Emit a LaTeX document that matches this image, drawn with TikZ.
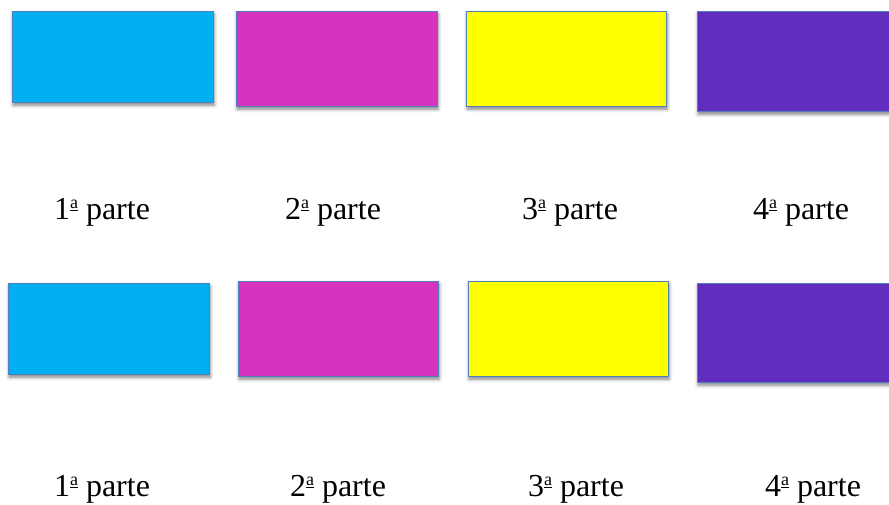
\documentclass[tikz,border=0pt]{standalone}
\usepackage{fontspec}
\setmainfont{Liberation Serif}
\newfontfamily\timesfont{Liberation Serif}
\usetikzlibrary{shadows.blur}
\definecolor{cCyan}{HTML}{00B0F0}
\definecolor{cMag}{HTML}{D633BF}
\definecolor{cYel}{HTML}{FFFF00}
\definecolor{cPur}{HTML}{602DBE}
\definecolor{cEdge}{HTML}{4F7FBF}
\newcommand{\ordA}{\raisebox{0.33em}{\fontsize{18}{18}\selectfont\underline{a}}}
\tikzset{
  partbox/.style={draw=cEdge, line width=0.8pt, inner sep=0pt,
    blur shadow={shadow xshift=1pt, shadow yshift=-3pt, shadow blur radius=3.5pt, shadow opacity=50}},
  partlabel/.style={anchor=base, inner sep=0pt, font=\timesfont\fontsize{32}{38}\selectfont}
}
\begin{document}
\begin{tikzpicture}[x=1pt,y=-1pt]
\useasboundingbox (0,0) rectangle (889,504);
% row 1
\node[partbox, fill=cCyan, minimum width=201pt, minimum height=91pt] (a1) at (112.5,56.5) {};
\node[partbox, fill=cMag,  minimum width=201pt, minimum height=95pt] (b1) at (336.5,58.5) {};
\node[partbox, fill=cYel,  minimum width=200pt, minimum height=95pt] (c1) at (566,58.5) {};
\node[partbox, fill=cPur,  minimum width=210pt, minimum height=100pt] (d1) at (802,61) {};
\node[partlabel] (la1) at (102,219) {1\ordA{} parte};
\node[partlabel] (lb1) at (333,219) {2\ordA{} parte};
\node[partlabel] (lc1) at (570,219) {3\ordA{} parte};
\node[partlabel] (ld1) at (801,219) {4\ordA{} parte};
% row 2
\node[partbox, fill=cCyan, minimum width=201pt, minimum height=91pt] (a2) at (108.5,328.5) {};
\node[partbox, fill=cMag,  minimum width=200pt, minimum height=95pt] (b2) at (338,328.5) {};
\node[partbox, fill=cYel,  minimum width=200pt, minimum height=95pt] (c2) at (568,328.5) {};
\node[partbox, fill=cPur,  minimum width=210pt, minimum height=99pt] (d2) at (802,332.5) {};
\node[partlabel] (la2) at (102,496) {1\ordA{} parte};
\node[partlabel] (lb2) at (338,496) {2\ordA{} parte};
\node[partlabel] (lc2) at (576,496) {3\ordA{} parte};
\node[partlabel] (ld2) at (813,496) {4\ordA{} parte};
\end{tikzpicture}
\end{document}
